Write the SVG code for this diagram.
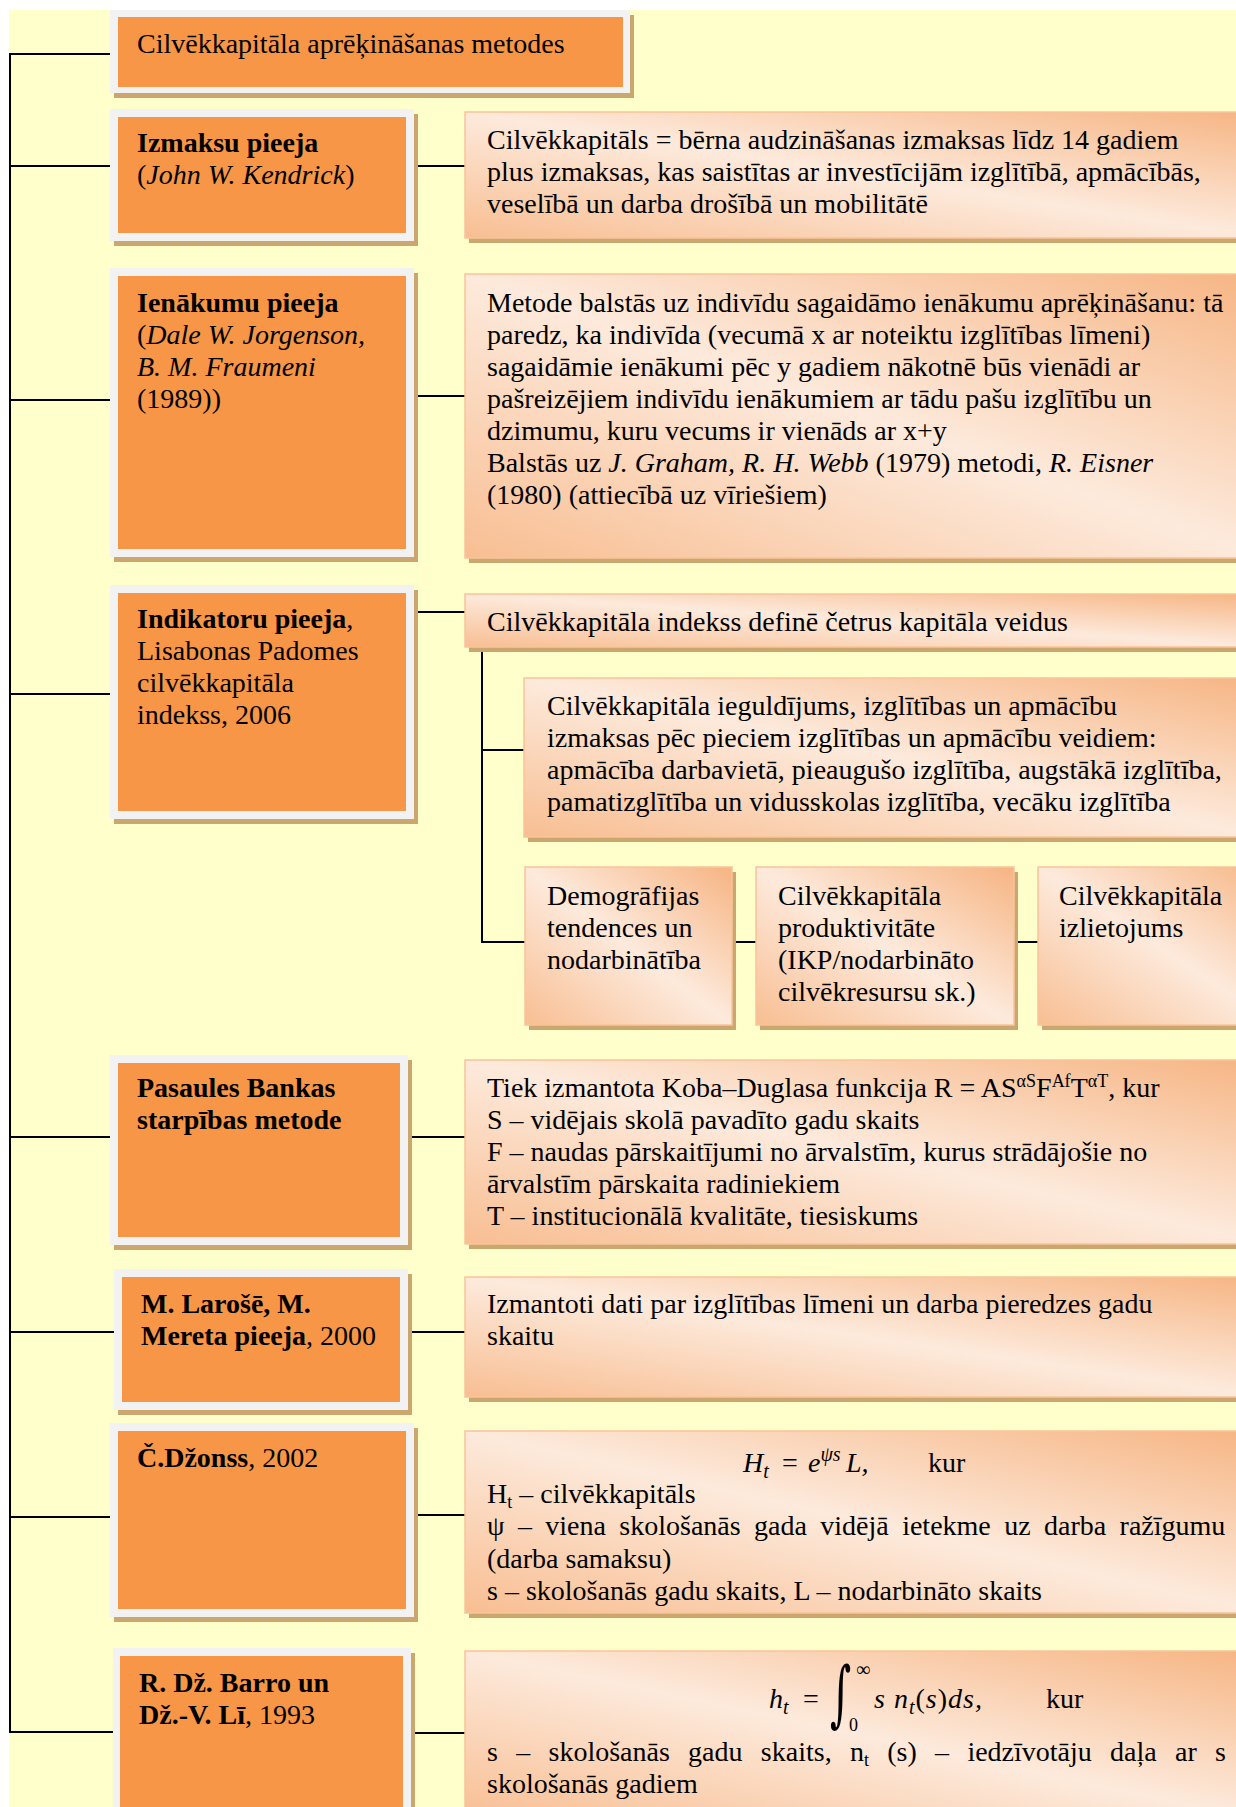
<svg xmlns="http://www.w3.org/2000/svg" width="1236" height="1807" viewBox="0 0 1236 1807">
  <defs>
    <!-- diagonal peach fill used by all description boxes -->
    <linearGradient id="peach" x1="1" y1="0" x2="0" y2="1">
      <stop offset="0" stop-color="#F6B482"/>
      <stop offset="0.5" stop-color="#FDEADC"/>
      <stop offset="1" stop-color="#F8BE92"/>
    </linearGradient>
  </defs>
  <style>
    .bg{fill:#FFFFCC}
    .shadow{fill:#CBA66E}
    .frame{fill:#F2F2F2}
    .fill{fill:#F79646}
    .desc{fill:url(#peach);stroke:#F9C49A;stroke-width:1.5}
    #connectors line{stroke:#000;stroke-width:2;fill:none}
    text{font-family:"Liberation Serif","Times New Roman",serif;font-size:28px;fill:#000}
    .b{font-weight:bold}
    .i{font-style:italic}
    .m{font-family:"Liberation Serif","DejaVu Serif",serif;font-style:italic}
  </style>

  <rect x="0" y="0" width="1236" height="1807" fill="#FFFFFF"/>
  <rect class="bg" x="9" y="10" width="1227" height="1797"/>

  <!-- connectors -->
  <g id="connectors">
    <line x1="10" y1="53" x2="10" y2="1733"/>
    <line x1="9" y1="54" x2="110" y2="54"/>
    <line x1="9" y1="166" x2="110" y2="166"/>
    <line x1="9" y1="400" x2="110" y2="400"/>
    <line x1="9" y1="694" x2="110" y2="694"/>
    <line x1="9" y1="1137" x2="110" y2="1137"/>
    <line x1="9" y1="1332" x2="114" y2="1332"/>
    <line x1="9" y1="1517" x2="110" y2="1517"/>
    <line x1="9" y1="1732" x2="113" y2="1732"/>
    <line x1="414" y1="166" x2="465" y2="166"/>
    <line x1="414" y1="396" x2="465" y2="396"/>
    <line x1="414" y1="612" x2="465" y2="612"/>
    <line x1="408" y1="1137" x2="465" y2="1137"/>
    <line x1="408" y1="1332" x2="465" y2="1332"/>
    <line x1="414" y1="1515" x2="465" y2="1515"/>
    <line x1="411" y1="1733" x2="465" y2="1733"/>
    <line x1="482" y1="648" x2="482" y2="943"/>
    <line x1="481" y1="750" x2="524" y2="750"/>
    <line x1="481" y1="942" x2="525" y2="942"/>
    <line x1="732" y1="942" x2="756" y2="942"/>
    <line x1="1014" y1="942" x2="1038" y2="942"/>
  </g>

  <!-- header -->
  <g id="title">
    <rect class="shadow" x="114" y="15" width="520" height="83"/>
    <rect class="frame" x="110" y="10" width="520" height="83"/>
    <rect class="fill" x="118" y="17" width="505" height="70"/>
    <text x="137" y="53">Cilvēkkapitāla aprēķināšanas metodes</text>
  </g>

  <!-- cost approach -->
  <g id="izmaksu">
    <rect class="shadow" x="114" y="114" width="304" height="132"/>
    <rect class="frame" x="110" y="109" width="304" height="132"/>
    <rect class="fill" x="118" y="117" width="288" height="116"/>
    <text x="137" y="152" class="b">Izmaksu pieeja</text>
    <text x="137" y="184">(<tspan class="i">John W. Kendrick</tspan>)</text>
  </g>
  <g id="izmaksu-desc">
    <rect class="shadow" x="469" y="117" width="800" height="126"/>
    <rect class="desc" x="465" y="112" width="800" height="126"/>
    <text x="487" y="149">Cilvēkkapitāls = bērna audzināšanas izmaksas līdz 14 gadiem</text>
    <text x="487" y="181">plus izmaksas, kas saistītas ar investīcijām izglītībā, apmācībās,</text>
    <text x="487" y="213">veselībā un darba drošībā un mobilitātē</text>
  </g>

  <!-- income approach -->
  <g id="ienakumu">
    <rect class="shadow" x="114" y="273" width="304" height="289"/>
    <rect class="frame" x="110" y="268" width="304" height="289"/>
    <rect class="fill" x="118" y="276" width="288" height="273"/>
    <text x="137" y="312" class="b">Ienākumu pieeja</text>
    <text x="137" y="344">(<tspan class="i">Dale W. Jorgenson,</tspan></text>
    <text x="137" y="376" class="i">B. M. Fraumeni</text>
    <text x="137" y="408">(1989))</text>
  </g>
  <g id="ienakumu-desc">
    <rect class="shadow" x="469" y="279" width="800" height="284"/>
    <rect class="desc" x="465" y="274" width="800" height="284"/>
    <text x="487" y="312">Metode balstās uz indivīdu sagaidāmo ienākumu aprēķināšanu: tā</text>
    <text x="487" y="344">paredz, ka indivīda (vecumā x ar noteiktu izglītības līmeni)</text>
    <text x="487" y="376">sagaidāmie ienākumi pēc y gadiem nākotnē būs vienādi ar</text>
    <text x="487" y="408">pašreizējiem indivīdu ienākumiem ar tādu pašu izglītību un</text>
    <text x="487" y="440">dzimumu, kuru vecums ir vienāds ar x+y</text>
    <text x="487" y="472">Balstās uz <tspan class="i">J. Graham, R. H. Webb</tspan> (1979) metodi, <tspan class="i">R. Eisner</tspan></text>
    <text x="487" y="504">(1980) (attiecībā uz vīriešiem)</text>
  </g>

  <!-- indicator approach -->
  <g id="indikatoru">
    <rect class="shadow" x="114" y="590" width="304" height="234"/>
    <rect class="frame" x="110" y="585" width="304" height="234"/>
    <rect class="fill" x="118" y="593" width="288" height="218"/>
    <text x="137" y="628"><tspan class="b">Indikatoru pieeja</tspan>,</text>
    <text x="137" y="660">Lisabonas Padomes</text>
    <text x="137" y="692">cilvēkkapitāla</text>
    <text x="137" y="724">indekss, 2006</text>
  </g>
  <g id="indekss">
    <rect class="shadow" x="469" y="599" width="800" height="53"/>
    <rect class="desc" x="465" y="594" width="800" height="53"/>
    <text x="487" y="631">Cilvēkkapitāla indekss definē četrus kapitāla veidus</text>
  </g>
  <g id="ieguldijums">
    <rect class="shadow" x="528" y="683" width="740" height="159"/>
    <rect class="desc" x="524" y="678" width="740" height="159"/>
    <text x="547" y="715">Cilvēkkapitāla ieguldījums, izglītības un apmācību</text>
    <text x="547" y="747">izmaksas pēc pieciem izglītības un apmācību veidiem:</text>
    <text x="547" y="779">apmācība darbavietā, pieaugušo izglītība, augstākā izglītība,</text>
    <text x="547" y="811">pamatizglītība un vidusskolas izglītība, vecāku izglītība</text>
  </g>
  <g id="demografija">
    <rect class="shadow" x="529" y="872" width="207" height="158"/>
    <rect class="desc" x="525" y="867" width="207" height="158"/>
    <text x="547" y="905">Demogrāfijas</text>
    <text x="547" y="937">tendences un</text>
    <text x="547" y="969">nodarbinātība</text>
  </g>
  <g id="produktivitate">
    <rect class="shadow" x="760" y="872" width="258" height="158"/>
    <rect class="desc" x="756" y="867" width="258" height="158"/>
    <text x="778" y="905">Cilvēkkapitāla</text>
    <text x="778" y="937">produktivitāte</text>
    <text x="778" y="969">(IKP/nodarbināto</text>
    <text x="778" y="1001">cilvēkresursu sk.)</text>
  </g>
  <g id="izlietojums">
    <rect class="shadow" x="1042" y="872" width="240" height="158"/>
    <rect class="desc" x="1038" y="867" width="240" height="158"/>
    <text x="1059" y="905">Cilvēkkapitāla</text>
    <text x="1059" y="937">izlietojums</text>
  </g>

  <!-- World Bank residual method -->
  <g id="pasaules">
    <rect class="shadow" x="114" y="1060" width="298" height="190"/>
    <rect class="frame" x="110" y="1055" width="298" height="190"/>
    <rect class="fill" x="118" y="1063" width="282" height="174"/>
    <text x="137" y="1097" class="b">Pasaules Bankas</text>
    <text x="137" y="1129" class="b">starpības metode</text>
  </g>
  <g id="pasaules-desc">
    <rect class="shadow" x="469" y="1065" width="800" height="184"/>
    <rect class="desc" x="465" y="1060" width="800" height="184"/>
    <text x="487" y="1097">Tiek izmantota Koba–Duglasa funkcija R = AS<tspan font-size="18" dy="-10">αS</tspan><tspan dy="10">F</tspan><tspan font-size="18" dy="-10">Af</tspan><tspan dy="10">T</tspan><tspan font-size="18" dy="-10">αT</tspan><tspan dy="10">, kur</tspan></text>
    <text x="487" y="1129">S – vidējais skolā pavadīto gadu skaits</text>
    <text x="487" y="1161">F – naudas pārskaitījumi no ārvalstīm, kurus strādājošie no</text>
    <text x="487" y="1193">ārvalstīm pārskaita radiniekiem</text>
    <text x="487" y="1225">T – institucionālā kvalitāte, tiesiskums</text>
  </g>

  <!-- Laroche & Merette -->
  <g id="larose">
    <rect class="shadow" x="118" y="1274" width="294" height="141"/>
    <rect class="frame" x="114" y="1269" width="294" height="141"/>
    <rect class="fill" x="122" y="1277" width="278" height="125"/>
    <text x="141" y="1313" class="b">M. Larošē, M.</text>
    <text x="141" y="1345"><tspan class="b">Mereta pieeja</tspan>, 2000</text>
  </g>
  <g id="larose-desc">
    <rect class="shadow" x="469" y="1282" width="800" height="120"/>
    <rect class="desc" x="465" y="1277" width="800" height="120"/>
    <text x="487" y="1313">Izmantoti dati par izglītības līmeni un darba pieredzes gadu</text>
    <text x="487" y="1345">skaitu</text>
  </g>

  <!-- Jones -->
  <g id="dzonss">
    <rect class="shadow" x="114" y="1428" width="304" height="194"/>
    <rect class="frame" x="110" y="1423" width="304" height="194"/>
    <rect class="fill" x="118" y="1431" width="288" height="178"/>
    <text x="137" y="1467"><tspan class="b">Č.Džonss</tspan>, 2002</text>
  </g>
  <g id="dzonss-desc">
    <rect class="shadow" x="469" y="1436" width="800" height="182"/>
    <rect class="desc" x="465" y="1431" width="800" height="182"/>
    <text x="743" y="1472" class="m">H<tspan font-size="20" dy="6">t</tspan><tspan x="782" dy="-6" font-style="normal">=</tspan><tspan x="808">e</tspan><tspan font-size="20" dy="-11">ψs</tspan><tspan x="846" dy="11">L,</tspan></text>
    <text x="928" y="1472">kur</text>
    <text x="487" y="1503">H<tspan font-size="18" dy="5">t</tspan><tspan dy="-5"> – cilvēkkapitāls</tspan></text>
    <text x="487" y="1535" word-spacing="6.4">ψ – viena skološanās gada vidējā ietekme uz darba ražīgumu</text>
    <text x="487" y="1568">(darba samaksu)</text>
    <text x="487" y="1600">s – skološanās gadu skaits, L – nodarbināto skaits</text>
  </g>

  <!-- Barro & Lee -->
  <g id="barro">
    <rect class="shadow" x="117" y="1653" width="298" height="170"/>
    <rect class="frame" x="113" y="1648" width="298" height="170"/>
    <rect class="fill" x="120" y="1656" width="283" height="160"/>
    <text x="139" y="1692" class="b">R. Dž. Barro un</text>
    <text x="139" y="1724"><tspan class="b">Dž.-V. Lī</tspan>, 1993</text>
  </g>
  <g id="barro-desc">
    <rect class="shadow" x="469" y="1656" width="800" height="170"/>
    <rect class="desc" x="465" y="1651" width="800" height="170"/>
    <text x="769" y="1708" class="m">h<tspan font-size="20" dy="6">t</tspan><tspan x="803" dy="-6" font-style="normal">=</tspan></text>
    <text transform="translate(830,1718) scale(0.85,1.5)" style="font-family:'DejaVu Serif',serif;font-size:48px">∫</text>
    <text x="856" y="1676" style="font-size:20px">∞</text>
    <text x="849" y="1731" style="font-size:18px">0</text>
    <text x="874" y="1708" class="m" letter-spacing="1">s n<tspan font-size="20" dy="6">t</tspan><tspan dy="-6" font-style="normal">(</tspan>s<tspan font-style="normal">)</tspan>ds,</text>
    <text x="1046" y="1708">kur</text>
    <text x="487" y="1761" word-spacing="11.3">s – skološanās gadu skaits, n<tspan font-size="18" dy="5">t</tspan><tspan dy="-5"> (s) – iedzīvotāju daļa ar s</tspan></text>
    <text x="487" y="1793">skološanās gadiem</text>
  </g>
</svg>
